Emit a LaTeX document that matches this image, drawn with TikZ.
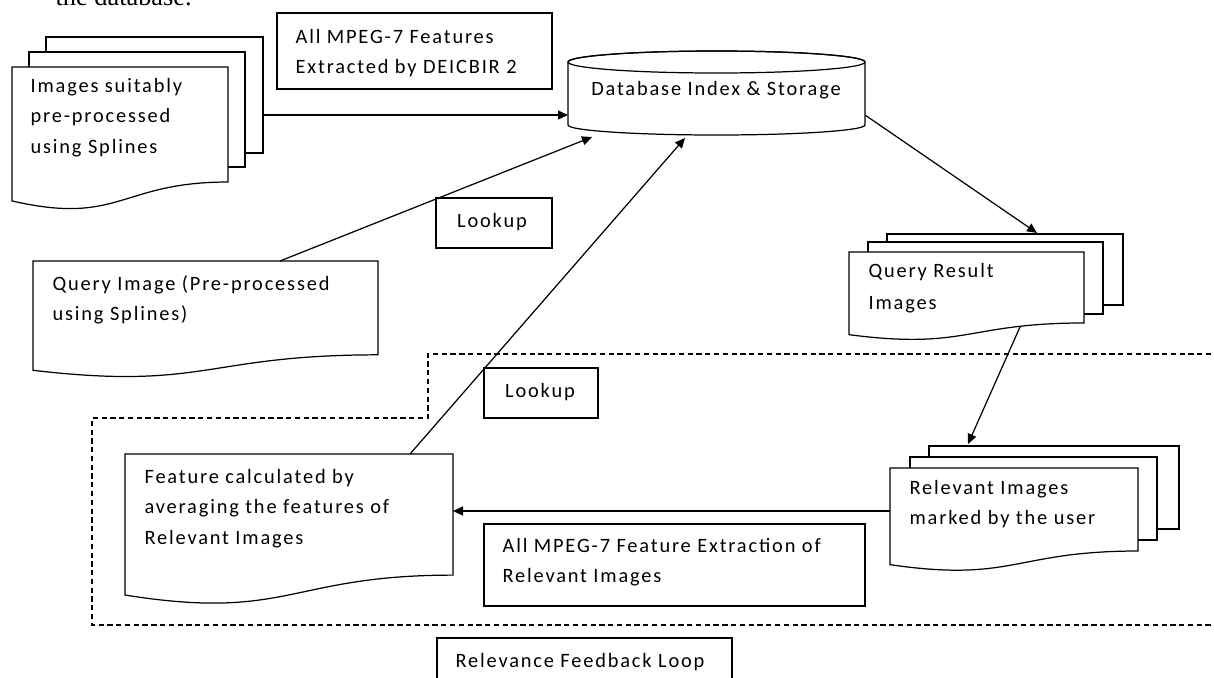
\documentclass[tikz,border=0pt]{standalone}
\usepackage{fontspec}
\setmainfont{Carlito}[LetterSpace=9]
\newfontfamily\capfont{Liberation Serif}
\usetikzlibrary{arrows.meta}
\newcommand{\dfont}{\fontsize{11.6}{17.6}\selectfont}
\newcommand{\docshape}[4]{%
  \draw[shapebox] (#1,#2) -- (#3,#2) -- (#3,{#2+0.802*#4})
    .. controls ({(#1+#3)/2},{#2+0.802*#4}) and ({(#1+#3)/2},{#2+1.1075*#4}) ..
    (#1,{#2+0.934*#4}) -- cycle;}
\begin{document}
\begin{tikzpicture}[x=0.02cm,y=-0.02cm, line width=0.7pt,
  shapebox/.style={draw=black, fill=white, line join=miter},
  lbl/.style={anchor=base west, inner sep=0pt, font=\dfont},
  clbl/.style={anchor=base, inner sep=0pt, font=\dfont},
  arr/.style={draw=black, -{Triangle[length=0.2cm,width=0.18cm]}},
  dashline/.style={draw=black, dash pattern=on 3pt off 2pt}]
\useasboundingbox (0,0) rectangle (1214,677);
\fill[white] (0,0) rectangle (1214,677);

% caption fragment
\node[anchor=base west, inner sep=0pt, font=\capfont\fontsize{15}{18}\selectfont] (cap) at (55,5) {the database.};

% relevance feedback loop region
\draw[dashline] (1220,354) -- (428,354) -- (428,418) -- (92,418) -- (92,625) -- (1220,625);

% images suitably pre-processed (multi document)
\draw[shapebox] (46,37) rectangle (263,153);
\draw[shapebox] (29,52) rectangle (245,167);
\docshape{12}{67}{228}{143.4}
\node[lbl] (tImg) at (30,92) {\begin{tabular}[t]{@{}l@{}}Images suitably\\pre-processed\\using Splines\end{tabular}};

% MPEG-7 features box
\draw[shapebox] (277,13) rectangle (552,89);
\node[lbl] (tMpeg1) at (295,43) {\begin{tabular}[t]{@{}l@{}}All MPEG-7 Features\\Extracted by DEICBIR 2\end{tabular}};

% database cylinder
\draw[shapebox] (568,62) -- (568,125) arc[start angle=180,end angle=360,x radius=2.97cm,y radius=0.2cm]
  -- (865,62) arc[start angle=0,end angle=180,x radius=2.97cm,y radius=0.22cm] -- cycle;
\draw (716.5,62) ellipse[x radius=2.97cm, y radius=0.22cm];
\node[clbl] (tDb) at (716,95) {Database Index \& Storage};

% lookup 1
\draw[shapebox] (436,198) rectangle (552,248);
\node[clbl] (tLook1) at (492,227) {Lookup};

% query image
\docshape{33}{261}{378}{117}
\node[lbl] (tQuery) at (52,290) {\begin{tabular}[t]{@{}l@{}}Query Image (Pre-processed\\using Splines)\end{tabular}};

% query result images
\draw[shapebox] (887,234) rectangle (1123,305);
\draw[shapebox] (868,242) rectangle (1103,314);
\docshape{849}{252}{1084}{88.5}
\node[lbl] (tQR) at (868,277) {\begin{tabular}[t]{@{}l@{}}Query Result\\[1pt]Images\end{tabular}};

% lookup 2
\draw[shapebox] (484,368) rectangle (598,418);
\node[clbl] (tLook2) at (540,397) {Lookup};

% feature calculated
\docshape{125}{454}{453}{151}
\node[lbl] (tFeat) at (144,483) {\begin{tabular}[t]{@{}l@{}}Feature calculated by\\averaging the features of\\Relevant Images\end{tabular}};

% relevant images
\draw[shapebox] (929,446) rectangle (1179,529);
\draw[shapebox] (910,457) rectangle (1157,540);
\docshape{890}{468}{1138}{103.5}
\node[lbl] (tRel) at (909,494) {\begin{tabular}[t]{@{}l@{}}Relevant Images\\marked by the user\end{tabular}};

% MPEG-7 extraction box
\draw[shapebox] (484,524) rectangle (865,606);
\node[lbl] (tMpeg2) at (502,552) {\begin{tabular}[t]{@{}l@{}}All MPEG-7 Feature Extraction of\\Relevant Images\end{tabular}};

% relevance feedback loop label
\draw[shapebox] (437,638) rectangle (732,700);
\node[lbl] (tLoop) at (455,667) {Relevance Feedback Loop};

% connector end points
\coordinate (imgOut) at (263,115);
\coordinate (dbIn1) at (568,115);
\coordinate (qOut) at (280,261);
\coordinate (dbIn2) at (592,137);
\coordinate (fOut) at (410,454);
\coordinate (dbIn3) at (685,138);
\coordinate (dbOut) at (865,115);
\coordinate (qrIn) at (1037,233);
\coordinate (qrOut) at (1020,327);
\coordinate (relIn) at (968,444);
\coordinate (relOut) at (890,511);
\coordinate (fIn) at (453,511);

\draw[arr] (imgOut) -- (dbIn1);
\draw[arr] (qOut) -- (dbIn2);
\draw[arr] (fOut) -- (dbIn3);
\draw[arr] (dbOut) -- (qrIn);
\draw[arr] (qrOut) -- (relIn);
\draw[arr] (relOut) -- (fIn);
\end{tikzpicture}
\end{document}
